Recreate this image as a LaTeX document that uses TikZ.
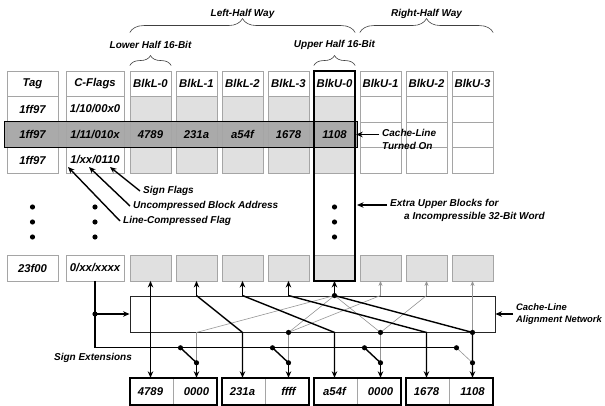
\documentclass[tikz,border=0pt]{standalone}
\usepackage{fontspec}
\setmainfont{Liberation Sans}
\usetikzlibrary{arrows.meta, positioning, calc, decorations.pathreplacing}

\definecolor{cellgray}{RGB}{224,224,224}
\definecolor{rowgray}{RGB}{170,170,170}
\definecolor{rulegray}{RGB}{165,165,165}
\definecolor{wiregray}{RGB}{150,150,150}

\begin{document}
\begin{tikzpicture}[
    x=1pt, y=-1pt,
    every node/.style={font=\fontsize{11.3}{12}\selectfont\bfseries\itshape, align=center},
    cell/.style={rectangle, draw=rulegray, fill=white, minimum width=41pt, minimum height=25.5pt, inner sep=0pt},
    blk/.style={cell, fill=cellgray},
    hot/.style={cell, fill=rowgray},
    outhalf/.style={rectangle, minimum width=41pt, minimum height=27pt, inner sep=0pt},
    netbox/.style={rectangle, draw=black!85, line width=0.9pt, minimum width=365pt, minimum height=36pt, inner sep=0pt},
    note/.style={font=\fontsize{10}{13}\selectfont\bfseries\itshape, align=left, inner sep=3pt},
    brace/.style={decorate, decoration={brace, amplitude=#1}, draw=black!75, line width=0.6pt},
    arrow/.style={-{Stealth[length=6.5pt, width=5.5pt]}, line width=1.4pt},
    faint/.style={draw=wiregray, line width=0.6pt},
    faintarrow/.style={faint, -{Stealth[length=5pt, width=4pt]}}
]
    \useasboundingbox (0,0) rectangle (605,406);

    % turned-on cache line
    \draw[fill=rowgray, line width=0.8pt] (4,121.75) rectangle (357,147.25);

    % tag and flag columns
    \node[cell, minimum width=51pt] (tag-h) at (32.5,83.5) {Tag};
    \node[cell, minimum width=58pt] (flg-h) at (95,83.5) {C-Flags};
    \node[cell, minimum width=51pt] (tag-a) at (32.5,109) {1ff97};
    \node[cell, minimum width=58pt] (flg-a) at (95,109) {1/10/00x0};
    \node[hot, minimum width=51pt] (tag-b) at (32.5,134.5) {1ff97};
    \node[hot, minimum width=58pt] (flg-b) at (95,134.5) {1/11/010x};
    \node[cell, minimum width=51pt] (tag-c) at (32.5,160) {1ff97};
    \node[cell, minimum width=58pt] (flg-c) at (95,160) {1/xx/0110};
    \node[cell, minimum width=51pt] (tag-z) at (32.5,268) {23f00};
    \node[cell, minimum width=58pt] (flg-z) at (95,268) {0/xx/xxxx};

    % data blocks
    \foreach \n/\t [count=\i from 0] in {L0/BlkL-0, L1/BlkL-1, L2/BlkL-2, L3/BlkL-3, U0/BlkU-0, U1/BlkU-1, U2/BlkU-2, U3/BlkU-3}
        \node[cell] (\n-h) at (150.5+46*\i,83.5) {\t};
    \foreach \n [count=\i from 0] in {L0,L1,L2,L3,U0} {
        \node[blk] (\n-a) at (150.5+46*\i,109) {};
        \node[blk] (\n-c) at (150.5+46*\i,160) {};
    }
    \foreach \n [count=\i from 5] in {U1,U2,U3} {
        \node[cell] (\n-a) at (150.5+46*\i,109) {};
        \node[cell] (\n-b) at (150.5+46*\i,134.5) {};
        \node[cell] (\n-c) at (150.5+46*\i,160) {};
    }
    \foreach \n/\v [count=\i from 0] in {L0/4789, L1/231a, L2/a54f, L3/1678, U0/1108}
        \node[hot] (\n-b) at (150.5+46*\i,134.5) {\v};
    \foreach \n [count=\i from 0] in {L0,L1,L2,L3,U0,U1,U2,U3}
        \node[blk] (\n-z) at (150.5+46*\i,268) {};

    \draw[line width=0.8pt] (4,121.75) rectangle (357,147.25);
    \draw[line width=2pt] (U0-h.north west) rectangle (U0-z.south east);

    \foreach \y in {207,222,237}
        \foreach \n in {tag-c, flg-c, U0-c}
            \fill (\n |- 0,\y) circle (2.6pt);

    % braces
    \draw[brace=14pt] ($(L0-h.north west)+(0,-38)$) -- ($(U0-h.north east)+(0,-38)$)
        node[midway, yshift=19pt, note] (lhw) {Left-Half Way};
    \draw[brace=14pt] ($(U1-h.north west)+(0,-38)$) -- ($(U3-h.north east)+(0,-38)$)
        node[midway, yshift=19pt, note] (rhw) {Right-Half Way};
    \draw[brace=10pt] ($(L0-h.north west)+(0,-5)$) -- ($(L0-h.north east)+(0,-5)$)
        node[midway, yshift=21pt, note] (lh16) {Lower Half 16-Bit};
    \draw[brace=10pt] ($(U0-h.north west)+(0,-5)$) -- ($(U0-h.north east)+(0,-5)$)
        node[midway, yshift=21pt, note] (uh16) {Upper Half 16-Bit};

    % notes on the tag side
    \node[note, anchor=west] (cl) at (379,139) {Cache-Line\\Turned On};
    \node[note, anchor=west] (xub) at (387,210.5) {Extra Upper Blocks for\\\hspace*{14pt}a Incompressible 32-Bit Word};
    \node[note, anchor=west] (sf) at (140,191) {Sign Flags};
    \node[note, anchor=west] (uba) at (130,206) {Uncompressed Block Address};
    \node[note, anchor=west] (lcf) at (120,221) {Line-Compressed Flag};
    \coordinate (sfp) at (110,167);
    \coordinate (ubp) at (89,167);
    \coordinate (lcp) at (68,167);
    \coordinate (xtip) at (357,205);

    \draw[arrow, shorten >=1pt] (U0-b.east -| cl.west) -- (U0-b.east);
    \draw[arrow] (xtip -| xub.west) -- (xtip);
    \draw[arrow] (sf.west) -- (sfp);
    \draw[arrow] (uba.west) -- (ubp);
    \draw[arrow] (lcf.west) -- (lcp);

    % alignment network and output words
    \node[netbox] (net) at (312.5,314) {};
    \node[note, anchor=west, font=\fontsize{9.4}{12.5}\selectfont\bfseries\itshape] (cla) at (513,314) {Cache-Line\\Alignment Network};
    \draw[arrow] (cla.west) -- (net.east);
    \node[note] (sext) at (93,358) {Sign Extensions};

    \foreach \n/\v [count=\i from 0] in {o1/4789, o2/0000, o3/231a, o4/ffff, o5/a54f, o6/0000, o7/1678, o8/1108}
        \node[outhalf] (\n) at (150.5+46*\i,391.5) {\v};
    \foreach \a/\b in {o1/o2, o3/o4, o5/o6, o7/o8} {
        \draw[rulegray, line width=0.6pt] ($(\a.north east)!.5!(\b.north west)$) -- ($(\a.south east)!.5!(\b.south west)$);
        \draw[line width=1.8pt] (\a.north west) rectangle (\b.south east);
    }
    \foreach \t in {o2,o4,o6,o8} {
        \coordinate (\t-pin) at ($(\t.north)+(0,-15)$);
        \coordinate (\t-arm) at ($(\t.north)+(-16,-30)$);
    }
    \coordinate (bus) at (flg-z.south |- o2-arm);
    \coordinate (tap) at (flg-z.south |- net.west);

    % upper-block paths
    \foreach \s/\t in {U0/o2, U0/o4, U1/o4, U0/o6, U2/o6, U3/o8}
        \draw[faint] (\s-z |- net.north) -- (\t |- net.south);
    \foreach \n in {U1,U2,U3}
        \draw[faintarrow] (\n-z |- net.north) -- (\n-z.south);
    \foreach \t in {o2,o4,o6}
        \draw[faint] (\t |- net.south) -- (\t-pin);
    \draw[faint] (o8-arm) -- (o8-pin);

    % lower-block paths
    \draw[{Stealth[length=6.5pt, width=5.5pt]}-{Stealth[length=6.5pt, width=5.5pt]}, line width=1.4pt] (L0-z.south) -- (o1.north);
    \foreach \n in {L1,L2,L3,U0}
        \draw[arrow] (\n-z |- net.north) -- (\n-z.south);
    \foreach \s/\t in {L1/o3, L2/o5, L3/o7, U0/o8}
        \draw[arrow] (\s-z |- net.north) -- (\t |- net.south) -- (\t.north);

    % sign extension switches
    \draw[line width=1.4pt] (flg-z.south) -- (bus);
    \draw[line width=0.8pt] (bus) -- (o8-arm);
    \draw[arrow] (tap) -- (net.west);
    \foreach \t in {o2,o4,o6} {
        \draw[line width=1.4pt] (\t-arm) -- (\t-pin);
        \draw[arrow] (\t-pin) -- (\t.north);
    }
    \foreach \t in {o2,o4,o6,o8} {
        \fill (\t-arm) circle (2.6pt);
        \fill (\t-pin) circle (2.6pt);
    }
    \fill (tap) circle (2.6pt);
    \fill (U0-z |- net.north) circle (2.6pt);
    \foreach \t in {o4,o6,o8}
        \fill (\t |- net.south) circle (2.6pt);
\end{tikzpicture}
\end{document}
